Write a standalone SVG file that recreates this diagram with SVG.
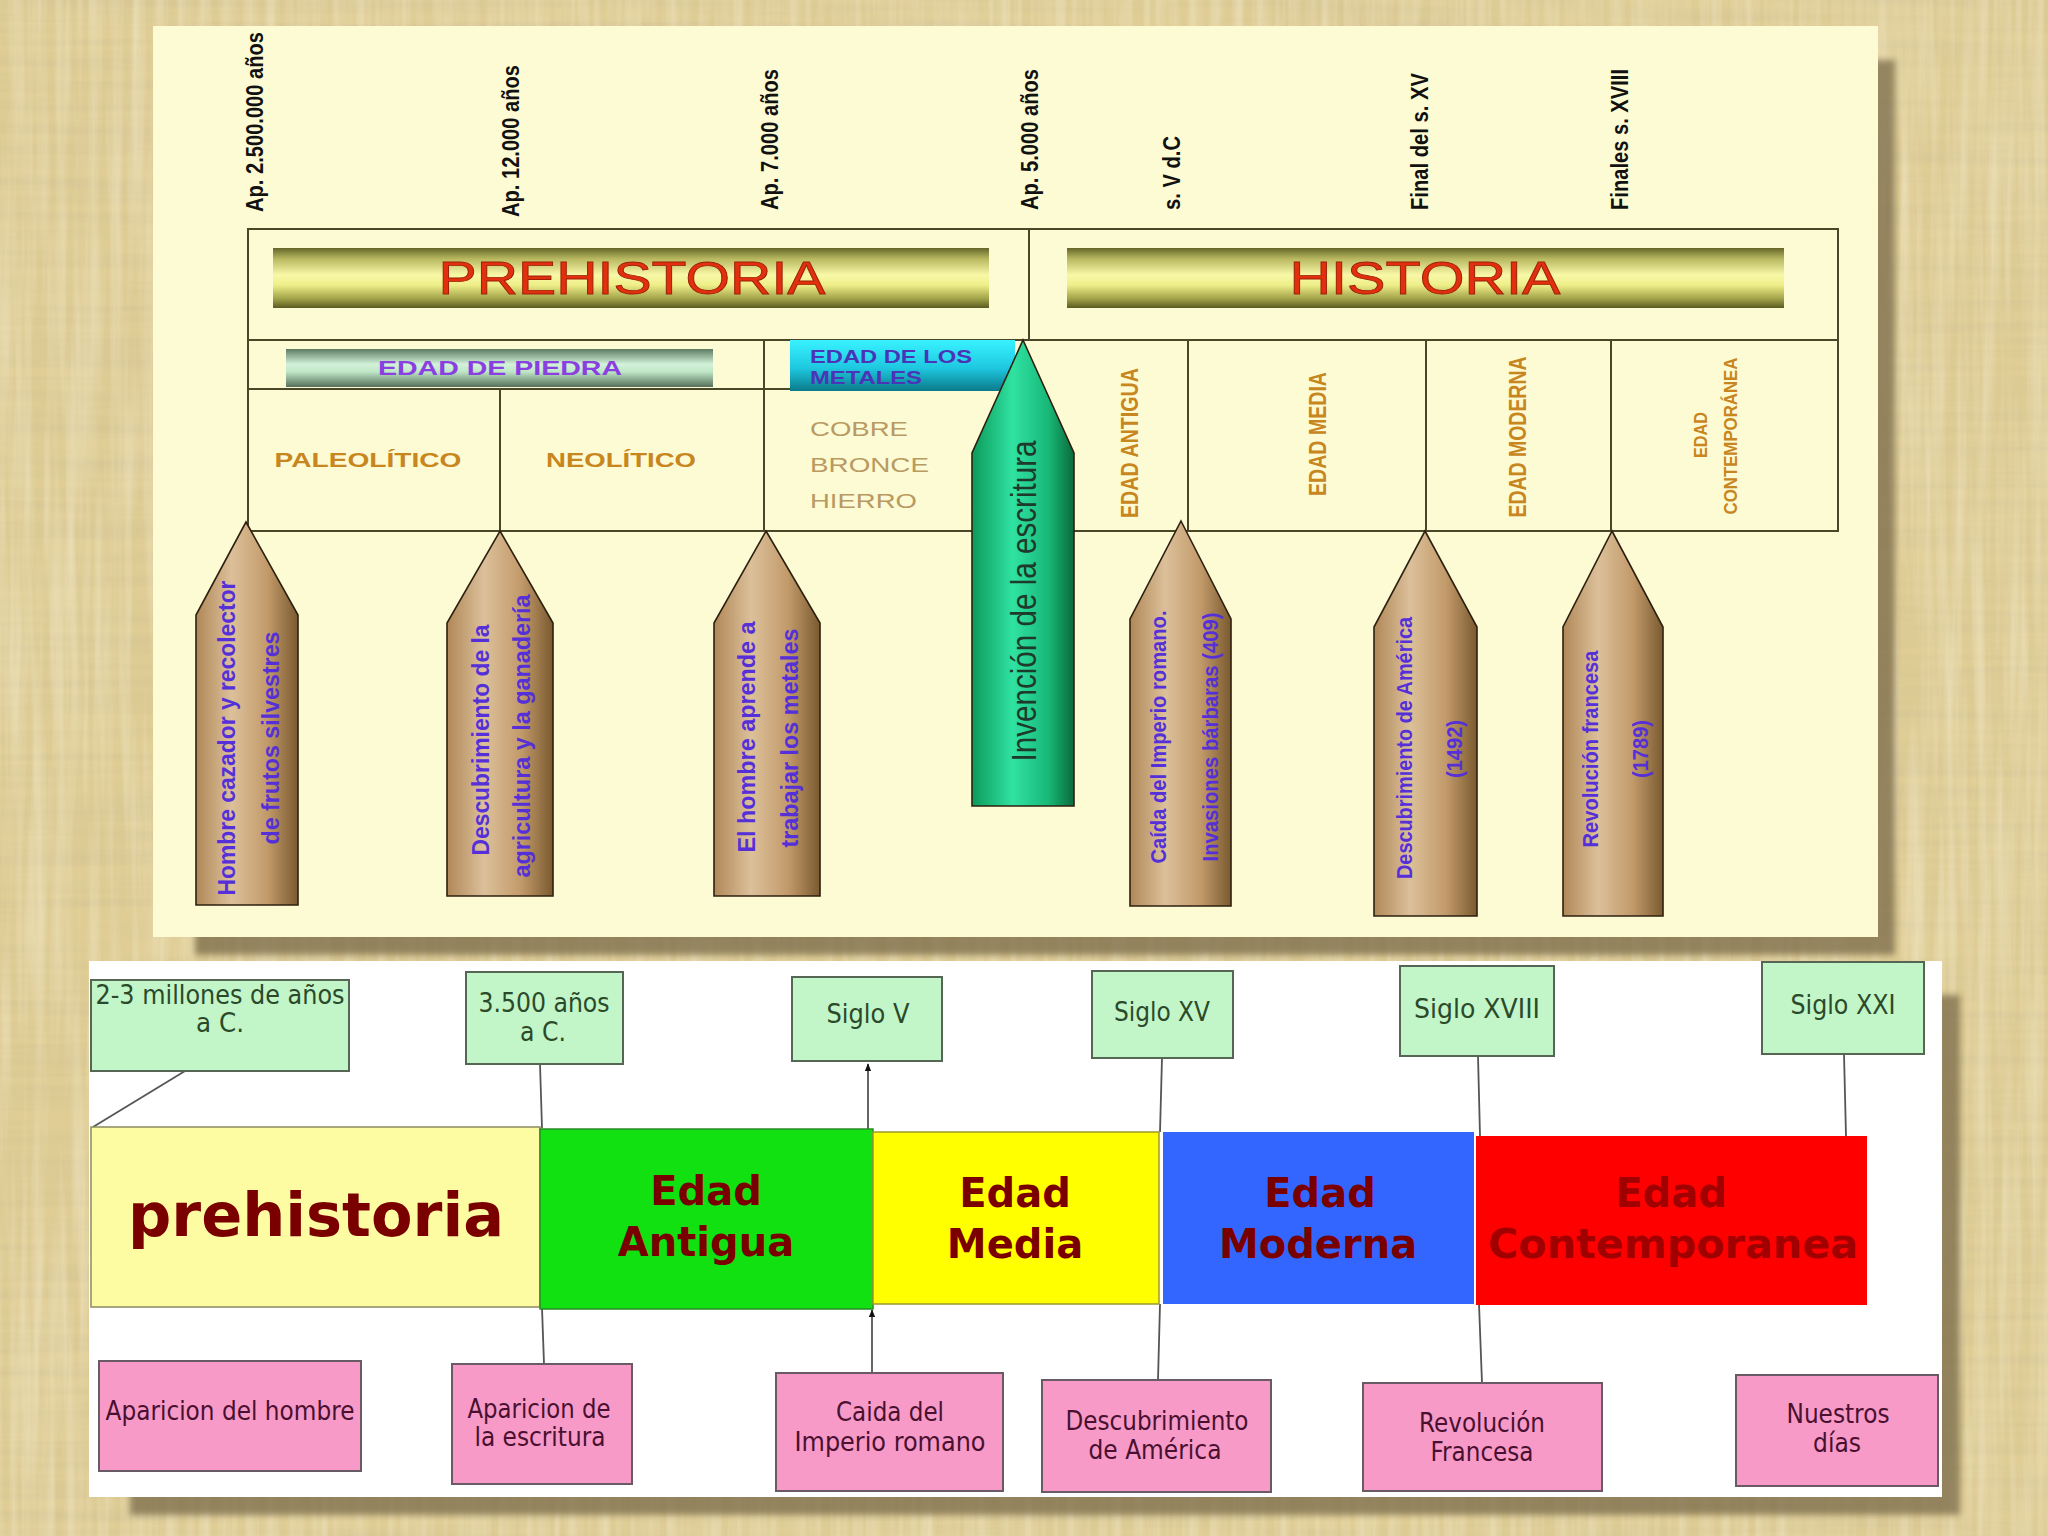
<svg xmlns="http://www.w3.org/2000/svg" width="2048" height="1536" viewBox="0 0 2048 1536">
<defs>
<style>
.tl{stroke:#4a4628;stroke-width:2;fill:none}
.pen{stroke:#2e2010;stroke-width:1.6}
.ptx{font-family:"Liberation Sans",Arial,sans-serif;font-weight:bold;fill:#5530d8;font-size:24px}
.date{font-family:"Liberation Sans",Arial,sans-serif;font-weight:bold;fill:#111;font-size:23px}
.age{font-family:"Liberation Sans",Arial,sans-serif;font-weight:bold;fill:#c8861e;font-size:21px}
.vage{font-family:"Liberation Sans",Arial,sans-serif;font-weight:bold;fill:#c8861e;font-size:23px}
.metal{font-family:"Liberation Sans",Arial,sans-serif;fill:#b89a62;font-size:21px}
.ban{font-family:"Liberation Sans",Arial,sans-serif;fill:#e2300e;stroke:#9a2008;stroke-width:0.8;font-size:46px}
.gbox{fill:#c2f5c8;stroke:#556655;stroke-width:2}
.pbox{fill:#f79ac8;stroke:#6a5a66;stroke-width:2}
.gt{font-family:"DejaVu Sans",Verdana,sans-serif;fill:#2a4a2a;font-size:26px}
.pt{font-family:"DejaVu Sans",Verdana,sans-serif;fill:#4a1030;font-size:26px}
.bt{font-family:"DejaVu Sans",Verdana,sans-serif;font-weight:bold;fill:#7a0000;font-size:40px}
.con{stroke:#555;stroke-width:1.8;fill:none}
</style>
<filter id="paperH" x="0" y="0" width="100%" height="100%">
<feTurbulence type="fractalNoise" baseFrequency="0.004 0.09" numOctaves="3" seed="5"/>
<feColorMatrix type="matrix" values="0 0 0 0 0.6 0 0 0 0 0.5 0 0 0 0 0.28 0.7 0 0 0 -0.25"/>
</filter>
<filter id="paperV" x="0" y="0" width="100%" height="100%">
<feTurbulence type="fractalNoise" baseFrequency="0.09 0.004" numOctaves="3" seed="9"/>
<feColorMatrix type="matrix" values="0 0 0 0 1 0 0 0 0 0.96 0 0 0 0 0.82 0.7 0 0 0 -0.25"/>
</filter>
<filter id="blur"><feGaussianBlur stdDeviation="3"/></filter>
<linearGradient id="banner" x1="0" y1="0" x2="0" y2="1">
<stop offset="0" stop-color="#66662a"/><stop offset="0.18" stop-color="#b8b860"/><stop offset="0.45" stop-color="#f8f8a8"/><stop offset="0.62" stop-color="#eeee88"/><stop offset="0.85" stop-color="#a0a048"/><stop offset="1" stop-color="#5a5a20"/>
</linearGradient>
<linearGradient id="piedra" x1="0" y1="0" x2="0" y2="1">
<stop offset="0" stop-color="#5e7a62"/><stop offset="0.4" stop-color="#d2f2da"/><stop offset="0.6" stop-color="#bfe6c6"/><stop offset="1" stop-color="#56705a"/>
</linearGradient>
<linearGradient id="metal" x1="0" y1="0" x2="0" y2="1">
<stop offset="0" stop-color="#38f2ff"/><stop offset="0.55" stop-color="#1ec8e0"/><stop offset="1" stop-color="#0a7a8a"/>
</linearGradient>
<linearGradient id="brown" x1="0" y1="0" x2="1" y2="0">
<stop offset="0" stop-color="#b08858"/><stop offset="0.35" stop-color="#dcc09a"/><stop offset="0.7" stop-color="#c29a6a"/><stop offset="1" stop-color="#7a5a30"/>
</linearGradient>
<linearGradient id="green" x1="0" y1="0" x2="1" y2="0">
<stop offset="0" stop-color="#0c9a5a"/><stop offset="0.4" stop-color="#30e2a2"/><stop offset="0.75" stop-color="#18b878"/><stop offset="1" stop-color="#0a6a3a"/>
</linearGradient>
<marker id="arr" viewBox="0 0 10 10" refX="9" refY="5" markerWidth="8" markerHeight="8" orient="auto-start-reverse" markerUnits="userSpaceOnUse">
<path d="M0,1 L10,5 L0,9 z" fill="#111"/>
</marker>
</defs>

<!-- background -->
<rect x="0" y="0" width="2048" height="1536" fill="#dfcd95"/>
<rect x="0" y="0" width="2048" height="1536" filter="url(#paperH)"/>
<rect x="0" y="0" width="2048" height="1536" filter="url(#paperV)"/>

<!-- shadows -->
<rect x="195" y="60" width="1700" height="895" fill="#7a6a48" opacity="0.75" filter="url(#blur)"/>
<rect x="130" y="995" width="1830" height="520" fill="#7a6a48" opacity="0.75" filter="url(#blur)"/>

<!-- top panel -->
<g id="top-panel">
<rect x="153" y="26" width="1725" height="911" fill="#fdfbd3"/>
</g>

<!-- dates -->
<g id="dates">
<text class="date" transform="translate(255,212) rotate(-90)" dy="0.35em" textLength="180" lengthAdjust="spacingAndGlyphs">Ap. 2.500.000 años</text>
<text class="date" transform="translate(511,217) rotate(-90)" dy="0.35em" textLength="152" lengthAdjust="spacingAndGlyphs">Ap. 12.000 años</text>
<text class="date" transform="translate(770,210) rotate(-90)" dy="0.35em" textLength="141" lengthAdjust="spacingAndGlyphs">Ap. 7.000 años</text>
<text class="date" transform="translate(1030,210) rotate(-90)" dy="0.35em" textLength="141" lengthAdjust="spacingAndGlyphs">Ap. 5.000 años</text>
<text class="date" transform="translate(1172,210) rotate(-90)" dy="0.35em" textLength="74" lengthAdjust="spacingAndGlyphs">s. V d.C</text>
<text class="date" transform="translate(1420,210) rotate(-90)" dy="0.35em" textLength="137" lengthAdjust="spacingAndGlyphs">Final del s. XV</text>
<text class="date" transform="translate(1620,210) rotate(-90)" dy="0.35em" textLength="141" lengthAdjust="spacingAndGlyphs">Finales s. XVIII</text>
</g>

<!-- table frame -->
<g id="table">
<rect class="tl" x="248" y="229" width="1590" height="302"/>
<line class="tl" x1="1029" y1="229" x2="1029" y2="340"/>
<line class="tl" x1="248" y1="340" x2="1838" y2="340"/>
<line class="tl" x1="248" y1="389" x2="790" y2="389"/>
<line class="tl" x1="500" y1="389" x2="500" y2="531"/>
<line class="tl" x1="764" y1="340" x2="764" y2="531"/>
<line class="tl" x1="1188" y1="340" x2="1188" y2="531"/>
<line class="tl" x1="1426" y1="340" x2="1426" y2="531"/>
<line class="tl" x1="1611" y1="340" x2="1611" y2="531"/>
</g>

<g id="prehistoria-banner">
<rect x="273" y="248" width="716" height="60" fill="url(#banner)"/>
<text class="ban" x="632" y="294" text-anchor="middle" textLength="387" lengthAdjust="spacingAndGlyphs">PREHISTORIA</text>
</g>
<g id="historia-banner">
<rect x="1067" y="248" width="717" height="60" fill="url(#banner)"/>
<text class="ban" x="1425" y="294" text-anchor="middle" textLength="271" lengthAdjust="spacingAndGlyphs">HISTORIA</text>
</g>

<g id="edad-piedra">
<rect x="286" y="349" width="427" height="38" fill="url(#piedra)"/>
<text x="500" y="375" text-anchor="middle" font-family="Liberation Sans, Arial, sans-serif" font-weight="bold" font-size="20" fill="#8a40e0" textLength="244" lengthAdjust="spacingAndGlyphs">EDAD DE PIEDRA</text>
</g>

<g id="edad-metales">
<rect x="790" y="340" width="225" height="51" fill="url(#metal)"/>
<text x="810" y="363" font-family="Liberation Sans, Arial, sans-serif" font-weight="bold" font-size="18" fill="#4a34b8" textLength="162" lengthAdjust="spacingAndGlyphs">EDAD DE LOS</text>
<text x="810" y="384" font-family="Liberation Sans, Arial, sans-serif" font-weight="bold" font-size="18" fill="#4a34b8" textLength="112" lengthAdjust="spacingAndGlyphs">METALES</text>
</g>

<g id="paleolitico"><text class="age" x="368" y="467" text-anchor="middle" textLength="187" lengthAdjust="spacingAndGlyphs">PALEOLÍTICO</text></g>
<g id="neolitico"><text class="age" x="621" y="467" text-anchor="middle" textLength="150" lengthAdjust="spacingAndGlyphs">NEOLÍTICO</text></g>
<g id="metales-list">
<text class="metal" x="810" y="436" textLength="98" lengthAdjust="spacingAndGlyphs">COBRE</text>
<text class="metal" x="810" y="472" textLength="119" lengthAdjust="spacingAndGlyphs">BRONCE</text>
<text class="metal" x="810" y="508" textLength="107" lengthAdjust="spacingAndGlyphs">HIERRO</text>
</g>

<g id="edades-top">
<text class="vage" transform="translate(1130,443) rotate(-90)" text-anchor="middle" dy="0.35em" textLength="150" lengthAdjust="spacingAndGlyphs">EDAD ANTIGUA</text>
<text class="vage" transform="translate(1318,434) rotate(-90)" text-anchor="middle" dy="0.35em" textLength="124" lengthAdjust="spacingAndGlyphs">EDAD MEDIA</text>
<text class="vage" transform="translate(1518,437) rotate(-90)" text-anchor="middle" dy="0.35em" textLength="161" lengthAdjust="spacingAndGlyphs">EDAD MODERNA</text>
<text class="age" style="font-size:18px" transform="translate(1701,435) rotate(-90)" text-anchor="middle" dy="0.35em" textLength="46" lengthAdjust="spacingAndGlyphs">EDAD</text>
<text class="age" style="font-size:18px" transform="translate(1731,436) rotate(-90)" text-anchor="middle" dy="0.35em" textLength="157" lengthAdjust="spacingAndGlyphs">CONTEMPORÁNEA</text>
</g>

<!-- pencils -->
<g id="pencil-1">
<polygon class="pen" fill="url(#brown)" points="246,522 298,615 298,905 196,905 196,615"/>
<text class="ptx" transform="translate(227,738) rotate(-90)" text-anchor="middle" dy="0.35em" textLength="315" lengthAdjust="spacingAndGlyphs">Hombre cazador y recolector</text>
<text class="ptx" transform="translate(271,738) rotate(-90)" text-anchor="middle" dy="0.35em" textLength="213" lengthAdjust="spacingAndGlyphs">de frutos silvestres</text>
</g>
<g id="pencil-2">
<polygon class="pen" fill="url(#brown)" points="500,531 553,623 553,896 447,896 447,623"/>
<text class="ptx" transform="translate(481,740) rotate(-90)" text-anchor="middle" dy="0.35em" textLength="231" lengthAdjust="spacingAndGlyphs">Descubrimiento de la</text>
<text class="ptx" transform="translate(522,736) rotate(-90)" text-anchor="middle" dy="0.35em" textLength="283" lengthAdjust="spacingAndGlyphs">agricultura y la ganadería</text>
</g>
<g id="pencil-3">
<polygon class="pen" fill="url(#brown)" points="766,531 820,623 820,896 714,896 714,623"/>
<text class="ptx" transform="translate(747,737) rotate(-90)" text-anchor="middle" dy="0.35em" textLength="231" lengthAdjust="spacingAndGlyphs">El hombre aprende a</text>
<text class="ptx" transform="translate(790,738) rotate(-90)" text-anchor="middle" dy="0.35em" textLength="219" lengthAdjust="spacingAndGlyphs">trabajar los metales</text>
</g>
<g id="pencil-escritura">
<polygon class="pen" fill="url(#green)" points="1023,340 1074,453 1074,806 972,806 972,453"/>
<text transform="translate(1024,601) rotate(-90)" text-anchor="middle" dy="0.35em" font-family="Liberation Sans, Arial, sans-serif" font-size="35" fill="#1e3a2a" textLength="321" lengthAdjust="spacingAndGlyphs">Invención de la escritura</text>
</g>
<g id="pencil-5">
<polygon class="pen" fill="url(#brown)" points="1181,521 1231,619 1231,906 1130,906 1130,619"/>
<text class="ptx" style="font-size:22px" transform="translate(1158,737) rotate(-90)" text-anchor="middle" dy="0.35em" textLength="253" lengthAdjust="spacingAndGlyphs">Caída del Imperio romano.</text>
<text class="ptx" style="font-size:22px" transform="translate(1210,737) rotate(-90)" text-anchor="middle" dy="0.35em" textLength="249" lengthAdjust="spacingAndGlyphs">Invasiones bárbaras (409)</text>
</g>
<g id="pencil-6">
<polygon class="pen" fill="url(#brown)" points="1425,531 1477,627 1477,916 1374,916 1374,627"/>
<text class="ptx" style="font-size:22px" transform="translate(1404,748) rotate(-90)" text-anchor="middle" dy="0.35em" textLength="262" lengthAdjust="spacingAndGlyphs">Descubrimiento de América</text>
<text class="ptx" style="font-size:22px" transform="translate(1454,749) rotate(-90)" text-anchor="middle" dy="0.35em" textLength="58" lengthAdjust="spacingAndGlyphs">(1492)</text>
</g>
<g id="pencil-7">
<polygon class="pen" fill="url(#brown)" points="1612,531 1663,627 1663,916 1563,916 1563,627"/>
<text class="ptx" style="font-size:22px" transform="translate(1590,749) rotate(-90)" text-anchor="middle" dy="0.35em" textLength="197" lengthAdjust="spacingAndGlyphs">Revolución francesa</text>
<text class="ptx" style="font-size:22px" transform="translate(1640,749) rotate(-90)" text-anchor="middle" dy="0.35em" textLength="58" lengthAdjust="spacingAndGlyphs">(1789)</text>
</g>

<!-- bottom panel -->
<g id="bottom-panel">
<rect x="89" y="961" width="1853" height="536" fill="#ffffff"/>
</g>

<g id="connectors">
<line class="con" x1="185" y1="1071" x2="93" y2="1127"/>
<line class="con" x1="540" y1="1064" x2="542" y2="1128"/>
<line class="con" x1="542" y1="1308" x2="544" y2="1364"/>
<line class="con" x1="868" y1="1129" x2="868" y2="1064" marker-end="url(#arr)"/>
<line class="con" x1="872" y1="1373" x2="872" y2="1310" marker-end="url(#arr)"/>
<line class="con" x1="1162" y1="1058" x2="1160" y2="1132"/>
<line class="con" x1="1160" y1="1304" x2="1158" y2="1380"/>
<line class="con" x1="1478" y1="1056" x2="1480" y2="1136"/>
<line class="con" x1="1479" y1="1304" x2="1482" y2="1383"/>
<line class="con" x1="1844" y1="1054" x2="1846" y2="1136"/>
</g>

<g id="bar-prehistoria">
<rect x="91" y="1127" width="449" height="180" fill="#fdfca2" stroke="#8a8a60" stroke-width="1.5"/>
<text class="bt" x="316" y="1236" text-anchor="middle" style="font-size:60px" textLength="376" lengthAdjust="spacingAndGlyphs">prehistoria</text>
</g>
<g id="bar-antigua">
<rect x="540" y="1129" width="333" height="180" fill="#11e011" stroke="#2a8a2a" stroke-width="1.5"/>
<text class="bt" x="706" y="1205" text-anchor="middle">Edad</text>
<text class="bt" x="706" y="1256" text-anchor="middle">Antigua</text>
</g>
<g id="bar-media">
<rect x="873" y="1132" width="286" height="172" fill="#ffff00" stroke="#9a9a30" stroke-width="1.5"/>
<text class="bt" x="1015" y="1207" text-anchor="middle">Edad</text>
<text class="bt" x="1015" y="1258" text-anchor="middle">Media</text>
</g>
<g id="bar-moderna">
<rect x="1163" y="1132" width="311" height="172" fill="#3366ff"/>
<text class="bt" x="1320" y="1207" text-anchor="middle">Edad</text>
<text class="bt" x="1318" y="1258" text-anchor="middle">Moderna</text>
</g>
<g id="bar-contemporanea">
<rect x="1476" y="1136" width="391" height="169" fill="#ff0000"/>
<text class="bt" x="1671" y="1207" text-anchor="middle" style="fill:#a00000">Edad</text>
<text class="bt" x="1673" y="1258" text-anchor="middle" style="fill:#a00000" textLength="370" lengthAdjust="spacingAndGlyphs">Contemporanea</text>
</g>

<g id="date-1">
<rect class="gbox" x="91" y="980" width="258" height="91"/>
<text class="gt" x="220" y="1004" text-anchor="middle" textLength="249" lengthAdjust="spacingAndGlyphs">2-3 millones de años</text>
<text class="gt" x="220" y="1032" text-anchor="middle" textLength="48" lengthAdjust="spacingAndGlyphs">a C.</text>
</g>
<g id="date-2">
<rect class="gbox" x="466" y="972" width="157" height="92"/>
<text class="gt" x="544" y="1012" text-anchor="middle" textLength="131" lengthAdjust="spacingAndGlyphs">3.500 años</text>
<text class="gt" x="543" y="1041" text-anchor="middle" textLength="46" lengthAdjust="spacingAndGlyphs">a C.</text>
</g>
<g id="date-3">
<rect class="gbox" x="792" y="977" width="150" height="84"/>
<text class="gt" x="868" y="1023" text-anchor="middle" textLength="83" lengthAdjust="spacingAndGlyphs">Siglo V</text>
</g>
<g id="date-4">
<rect class="gbox" x="1092" y="971" width="141" height="87"/>
<text class="gt" x="1162" y="1021" text-anchor="middle" textLength="96" lengthAdjust="spacingAndGlyphs">Siglo XV</text>
</g>
<g id="date-5">
<rect class="gbox" x="1400" y="966" width="154" height="90"/>
<text class="gt" x="1477" y="1018" text-anchor="middle" textLength="126" lengthAdjust="spacingAndGlyphs">Siglo XVIII</text>
</g>
<g id="date-6">
<rect class="gbox" x="1762" y="962" width="162" height="92"/>
<text class="gt" x="1843" y="1014" text-anchor="middle" textLength="105" lengthAdjust="spacingAndGlyphs">Siglo XXI</text>
</g>

<g id="event-1">
<rect class="pbox" x="99" y="1361" width="262" height="110"/>
<text class="pt" x="230" y="1420" text-anchor="middle" textLength="249" lengthAdjust="spacingAndGlyphs">Aparicion del hombre</text>
</g>
<g id="event-2">
<rect class="pbox" x="452" y="1364" width="180" height="120"/>
<text class="pt" x="539" y="1418" text-anchor="middle" textLength="143" lengthAdjust="spacingAndGlyphs">Aparicion de</text>
<text class="pt" x="540" y="1446" text-anchor="middle" textLength="131" lengthAdjust="spacingAndGlyphs">la escritura</text>
</g>
<g id="event-3">
<rect class="pbox" x="776" y="1373" width="227" height="118"/>
<text class="pt" x="890" y="1421" text-anchor="middle" textLength="108" lengthAdjust="spacingAndGlyphs">Caida del</text>
<text class="pt" x="890" y="1451" text-anchor="middle" textLength="191" lengthAdjust="spacingAndGlyphs">Imperio romano</text>
</g>
<g id="event-4">
<rect class="pbox" x="1042" y="1380" width="229" height="112"/>
<text class="pt" x="1157" y="1430" text-anchor="middle" textLength="183" lengthAdjust="spacingAndGlyphs">Descubrimiento</text>
<text class="pt" x="1155" y="1459" text-anchor="middle" textLength="133" lengthAdjust="spacingAndGlyphs">de América</text>
</g>
<g id="event-5">
<rect class="pbox" x="1363" y="1383" width="239" height="108"/>
<text class="pt" x="1482" y="1432" text-anchor="middle" textLength="126" lengthAdjust="spacingAndGlyphs">Revolución</text>
<text class="pt" x="1482" y="1461" text-anchor="middle" textLength="103" lengthAdjust="spacingAndGlyphs">Francesa</text>
</g>
<g id="event-6">
<rect class="pbox" x="1736" y="1375" width="202" height="111"/>
<text class="pt" x="1838" y="1423" text-anchor="middle" textLength="103" lengthAdjust="spacingAndGlyphs">Nuestros</text>
<text class="pt" x="1837" y="1452" text-anchor="middle" textLength="48" lengthAdjust="spacingAndGlyphs">días</text>
</g>
</svg>
